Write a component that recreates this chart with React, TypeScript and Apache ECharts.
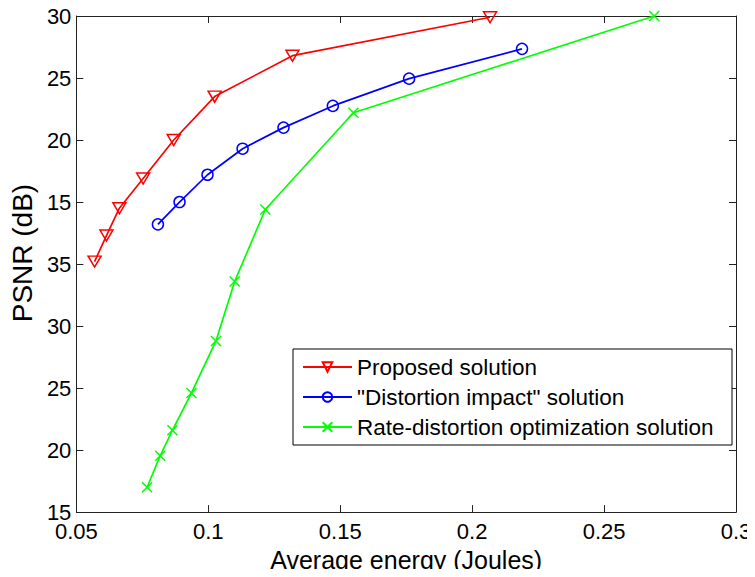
import React, { useEffect, useRef } from 'react';
import * as echarts from 'echarts';

const seriesNames = [
  'Proposed solution',
  '"Distortion impact" solution',
  'Rate-distortion optimization solution',
];
const proposedEnergy = [0.0569, 0.0614, 0.0663, 0.0753, 0.0869, 0.1024, 0.1319, 0.2068];
const proposedPsnr = [35.2, 37.3, 39.5, 41.9, 45.0, 48.5, 51.8, 54.9];
const distortionEnergy = [0.0809, 0.0891, 0.0997, 0.113, 0.1285, 0.1472, 0.1761, 0.2189];
const distortionPsnr = [38.2, 40.0, 42.2, 44.3, 46.0, 47.75, 49.95, 52.35];
const rdoEnergy = [0.0768, 0.0818, 0.0864, 0.0936, 0.1029, 0.11, 0.1216, 0.155, 0.269];
const rdoPsnr = [17.0, 19.55, 21.6, 24.6, 28.8, 33.6, 39.4, 47.2, 55.0];

const xTickLabels = ['0.05', '0.1', '0.15', '0.2', '0.25', '0.3'];
const yTickLabels = ['15', '20', '25', '30', '35', '15', '20', '25', '30'];

const FONT = '"Liberation Sans", Arial, Helvetica, sans-serif';
const AXIS_COLOR = '#222';

const zip = (xs: number[], ys: number[]) => xs.map((x, i) => [x, ys[i]]);

export default function App() {
  const ref = useRef<HTMLDivElement>(null);

  useEffect(() => {
    if (!ref.current) return;
    const chart = echarts.init(ref.current, undefined, { renderer: 'svg' });

    const baseX = {
      type: 'value' as const,
      min: 0.05,
      max: 0.3,
      interval: 0.05,
      splitLine: { show: false },
      axisLine: { show: true, lineStyle: { color: AXIS_COLOR, width: 1 } },
      axisTick: { show: true, inside: true, length: 7, lineStyle: { color: AXIS_COLOR } },
    };
    const baseY = {
      type: 'value' as const,
      min: 15,
      max: 55,
      interval: 5,
      splitLine: { show: false },
      axisLine: { show: true, lineStyle: { color: AXIS_COLOR, width: 1 } },
      axisTick: { show: true, inside: true, length: 7, lineStyle: { color: AXIS_COLOR } },
    };

    const lineSeries = (
      name: string,
      data: number[][],
      color: string,
      symbol: string,
      symbolSize: number | number[]
    ) => ({
      name,
      type: 'line' as const,
      data,
      symbol,
      symbolSize,
      showSymbol: true,
      lineStyle: { color, width: 1.7 },
      itemStyle: { color: 'rgba(0,0,0,0)', borderColor: color, borderWidth: 1.5 },
      emphasis: { disabled: true },
      z: 2,
    });

    chart.setOption({
      animation: false,
      backgroundColor: '#fff',
      textStyle: { fontFamily: FONT },
      grid: { left: 76, right: 19, top: 16, bottom: 62, containLabel: false },
      xAxis: [
        {
          ...baseX,
          position: 'bottom',
          name: 'Average energy (Joules)',
          nameLocation: 'middle',
          nameGap: 30,
          nameTextStyle: { fontFamily: FONT, fontSize: 25, color: '#000' },
          axisLabel: {
            show: true,
            margin: 8,
            fontFamily: FONT,
            fontSize: 22,
            color: '#000',
            formatter: (_v: number, i: number) => xTickLabels[i],
          },
        },
        {
          ...baseX,
          position: 'top',
          axisLabel: { show: false },
        },
      ],
      yAxis: [
        {
          ...baseY,
          position: 'left',
          name: 'PSNR (dB)',
          nameLocation: 'middle',
          nameGap: 36,
          nameTextStyle: {
            fontFamily: FONT,
            fontSize: 28,
            color: '#000',
            padding: [0, 0, 0, 22],
          },
          axisLabel: {
            show: true,
            margin: 5,
            fontFamily: FONT,
            fontSize: 22,
            color: '#000',
            formatter: (_v: number, i: number) => yTickLabels[i],
          },
        },
        {
          ...baseY,
          position: 'right',
          axisLabel: { show: false },
        },
      ],
      legend: {
        show: true,
        orient: 'vertical',
        left: 293,
        top: 349,
        padding: [6, 10, 6, 9],
        itemGap: 6,
        itemWidth: 49,
        itemHeight: 12,
        align: 'left',
        textStyle: { fontFamily: FONT, fontSize: 22.5, color: '#000', lineHeight: 24 },
        data: seriesNames,
        selectedMode: false,
        z: 5,
      },
      graphic: [
        {
          type: 'rect',
          z: 4,
          silent: true,
          shape: { x: 293, y: 349, width: 439, height: 96 },
          style: { fill: '#fff', stroke: '#000', lineWidth: 1 },
        },
      ],
      series: [
        lineSeries(seriesNames[0], zip(proposedEnergy, proposedPsnr), '#ff0000', 'path://M0,0L13,0L6.5,11Z', [13, 11]),
        lineSeries(seriesNames[1], zip(distortionEnergy, distortionPsnr), '#0000ff', 'circle', 11),
        lineSeries(seriesNames[2], zip(rdoEnergy, rdoPsnr), '#00ff00', 'path://M0,0L10,10M10,0L0,10', 10),
      ],
    });

    return () => chart.dispose();
  }, []);

  return <div ref={ref} style={{ width: 755, height: 577, margin: -8 }} />;
}
